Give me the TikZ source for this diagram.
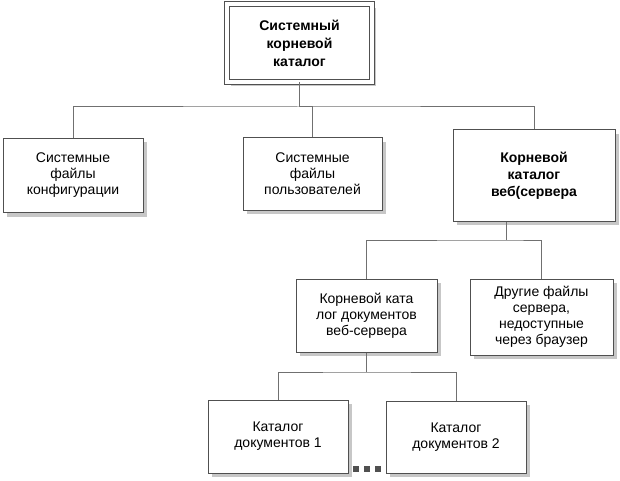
\documentclass[tikz,border=0pt]{standalone}
\usepackage{fontspec}
\setmainfont{Liberation Sans}
\usetikzlibrary{shadows}
\definecolor{boxline}{HTML}{505050}
\definecolor{wirecol}{HTML}{707070}
\tikzset{
  block/.style={draw=boxline,fill=white,rectangle,line width=1pt,align=center,inner sep=0pt,
    font=\fontsize{14}{16}\selectfont,
    drop shadow={shadow xshift=4pt,shadow yshift=-4pt,fill=black!22,opacity=1}},
  rootblock/.style={block,double=white,double distance=4pt,font=\fontsize{14}{18}\selectfont\bfseries},
  wire/.style={draw=wirecol,line width=1pt},
  dotsq/.style={fill=boxline,minimum size=6pt,inner sep=0pt}
}

\begin{document}
\begin{tikzpicture}[x=1pt,y=-1pt]
  \useasboundingbox (0,0) rectangle (620,481);

  \node[rootblock,minimum width=145pt,minimum height=78pt] (root) at (299.5,43) {Системный\\корневой\\каталог};
  \node[block,minimum width=140pt,minimum height=74pt] (cfg) at (73,175.5) {Системные\\файлы\\конфигурации};
  \node[block,minimum width=139pt,minimum height=72pt] (usr) at (312.5,174) {Системные\\файлы\\пользователей};
  \node[block,minimum width=162pt,minimum height=91pt,font=\fontsize{14}{17}\selectfont\bfseries] (web) at (534,175.5) {Корневой\\каталог\\веб(сервера};
  \node[block,minimum width=141pt,minimum height=73pt] (docroot) at (366.5,315.5) {Корневой ката\\лог документов\\веб-сервера};
  \node[block,minimum width=143pt,minimum height=76pt] (other) at (541.5,317) {Другие файлы\\сервера,\\недоступные\\через браузер};
  \node[block,minimum width=140pt,minimum height=73pt] (cat1) at (278,436.5) {Каталог\\документов 1};
  \node[block,minimum width=140pt,minimum height=72pt] (cat2) at (456,437) {Каталог\\документов 2};

  \coordinate (j1) at (299.5,107);
  \coordinate (j2) at (506,240);
  \coordinate (j3) at (366.5,372);

  \draw[wire] (root.south) -- (j1);
  \draw[wire] (cfg.north) |- (j1) -| (web.north);
  \draw[wire] (j1) -| (usr.north);
  \draw[wire] (j2 |- web.south) -- (j2);
  \draw[wire] (docroot.north) |- (j2) -| (other.north);
  \draw[wire] (docroot.south) -- (j3);
  \draw[wire] (cat1.north) |- (j3) -| (cat2.north);

  \foreach \x [count=\n] in {356,367,378}
    \node[dotsq] (dot\n) at (\x,469) {};
\end{tikzpicture}
\end{document}
